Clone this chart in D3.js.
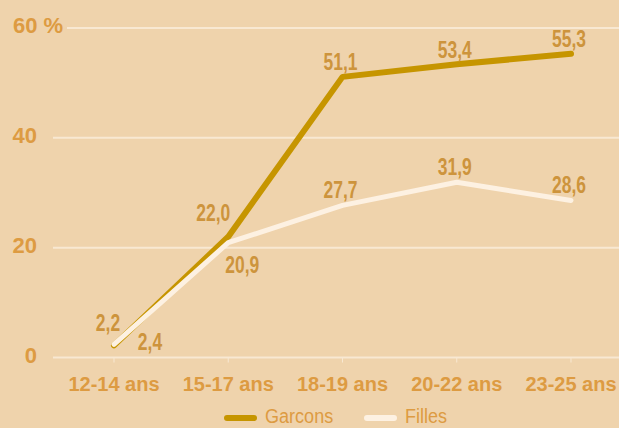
<!DOCTYPE html>
<html>
<head>
<meta charset="utf-8">
<script src="https://d3js.org/d3.v7.min.js"></script>
<style>
  body { margin: 0; background: #efd3ac; }
  svg { display: block; }
  .grid line { stroke: #f8e8d2; stroke-width: 2; }
  .ylab { font-family: "Liberation Sans", Arial, sans-serif; font-weight: bold; font-size: 22px; fill: #dd9b42; }
  .xlab { font-family: "Liberation Sans", Arial, sans-serif; font-weight: bold; font-size: 20px; fill: #dd9b42; }
  .val { font-family: "Liberation Sans", sans-serif; font-weight: bold; font-size: 23px; fill: #cd943c; }
  .leg { font-family: "Liberation Sans", sans-serif; font-size: 21px; fill: #dd9b42; }
</style>
</head>
<body>
<div id="chart"></div>
<script>
let width = 619, height = 428;

// data
let categories = ["12-14 ans", "15-17 ans", "18-19 ans", "20-22 ans", "23-25 ans"];
let garcons = [2.2, 22.0, 51.1, 53.4, 55.3];
let filles = [2.4, 20.9, 27.7, 31.9, 28.6];
let yTicks = [0, 20, 40, 60];
let seriesNames = ["Garcons", "Filles"];

let x = d3.scalePoint().domain(categories).range([114, 571]);
let y = d3.scaleLinear().domain([0, 60]).range([357.5, 28]);

let fmt = d => d.toFixed(1).replace(".", ",");

let svg = d3.select("#chart").append("svg")
    .attr("width", width)
    .attr("height", height);

svg.append("rect").attr("width", width).attr("height", height).attr("fill", "#efd3ac");

// gridlines
svg.append("g").attr("class", "grid")
  .selectAll("line")
  .data(yTicks)
  .enter().append("line")
    .attr("x1", d => d == 60 ? 67 : 53)
    .attr("x2", width)
    .attr("y1", d => y(d))
    .attr("y2", d => y(d));

// x ticks
svg.append("g")
  .selectAll("line")
  .data(categories)
  .enter().append("line")
    .attr("x1", d => x(d)).attr("x2", d => x(d))
    .attr("y1", y(0)).attr("y2", y(0) + 5)
    .attr("stroke", "#f8e8d2").attr("stroke-width", 1);

// y labels
svg.append("g")
  .selectAll("text")
  .data(yTicks)
  .enter().append("text")
    .attr("class", "ylab")
    .attr("x", d => d == 60 ? 13 : 37)
    .attr("y", d => y(d) + 5)
    .attr("text-anchor", d => d == 60 ? "start" : "end")
    .text(d => d == 60 ? d + " %" : d);

// x labels
svg.append("g")
  .selectAll("text")
  .data(categories)
  .enter().append("text")
    .attr("class", "xlab")
    .attr("x", d => x(d))
    .attr("y", 391)
    .attr("text-anchor", "middle")
    .text(d => d);

let line = d3.line()
    .x((d, i) => x(categories[i]))
    .y(d => y(d));

svg.append("path")
    .datum(garcons)
    .attr("d", line)
    .attr("fill", "none")
    .attr("stroke", "#c69500")
    .attr("stroke-width", 6)
    .attr("stroke-linejoin", "round")
    .attr("stroke-linecap", "round");

svg.append("path")
    .datum(filles)
    .attr("d", line)
    .attr("fill", "none")
    .attr("stroke", "#fdf1e2")
    .attr("stroke-width", 5)
    .attr("stroke-linejoin", "round")
    .attr("stroke-linecap", "round");

// value labels (offsets relative to the point), squeezed to look condensed
let gOff = [[-6, -14], [-15, -16], [-2, -7], [-2, -6], [-2, -7]];
let fOff = [[36, 6], [14, 30], [-2, -7], [-2, -7], [-2, -7]];

function addVals(data, off) {
  svg.append("g")
    .selectAll("text")
    .data(data)
    .enter().append("text")
      .attr("class", "val")
      .attr("transform", (d, i) => "translate(" + (x(categories[i]) + off[i][0]) + "," + (y(d) + off[i][1]) + ") scale(0.76,1)")
      .attr("text-anchor", "middle")
      .text(fmt);
}
addVals(garcons, gOff);
addVals(filles, fOff);

// legend
let leg = svg.append("g");
let legX = [227, 367];
let legCol = ["#c69500", "#fdf1e2"];
seriesNames.forEach((n, i) => {
  leg.append("line")
    .attr("x1", legX[i]).attr("x2", legX[i] + 27)
    .attr("y1", 418).attr("y2", 418)
    .attr("stroke", legCol[i]).attr("stroke-width", 6)
    .attr("stroke-linecap", "round");
  leg.append("text")
    .attr("class", "leg")
    .attr("transform", "translate(" + (legX[i] + 38) + ",423) scale(0.86,1)")
    .text(n);
});
</script>
</body>
</html>
